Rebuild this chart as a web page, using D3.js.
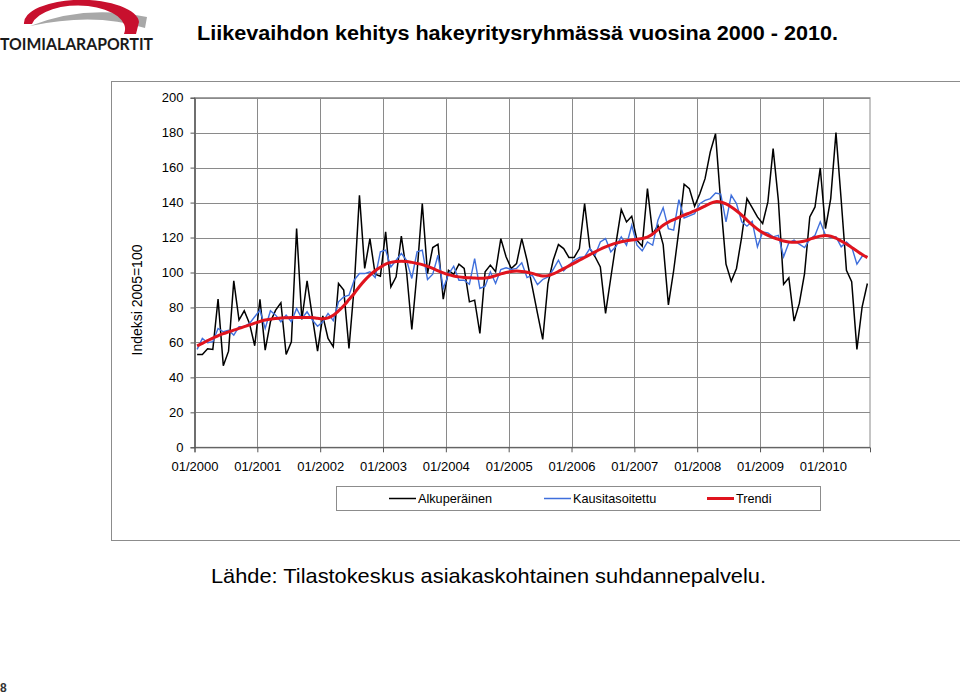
<!DOCTYPE html>
<html><head><meta charset="utf-8">
<script src="https://cdn.jsdelivr.net/npm/d3@7"></script>
<style>
html,body{margin:0;padding:0;background:#fff;}
svg{display:block;font-family:"Liberation Sans",Arial,sans-serif;}
</style></head>
<body>
<svg id="c" width="960" height="694"></svg>
<script>
// ---- DATA ----
const tickLabels = ["01/2000","01/2001","01/2002","01/2003","01/2004","01/2005","01/2006","01/2007","01/2008","01/2009","01/2010"];
const seriesNames = ["Alkuperäinen","Kausitasoitettu","Trendi"];
const yTicks = [0,20,40,60,80,100,120,140,160,180,200];
// original series, monthly 01/2000 - 09/2010
const original = [
 53.1,53.1,56.4,56.0,84.8,46.7,55.0,95.2,72.8,78.1,70.9,58.1,
 84.6,55.6,71.8,78.5,82.7,53.1,60.4,125.1,73.1,95.2,74.7,55.0,
 75.2,62.3,57.5,93.7,89.9,56.6,92.0,144.2,102.3,119.4,99.0,97.9,
 123.2,91.8,97.5,120.8,100.4,67.4,100.0,139.5,99.4,114.3,116.2,84.8,
 101.3,99.0,104.8,102.3,83.2,84.2,65.1,100.4,104.2,100.4,119.4,109.0,
 102.3,105.1,119.4,107.0,91.8,76.6,61.7,93.7,107.0,116.0,113.7,108.6,
 108.6,113.7,139.4,113.7,109.0,103.2,76.6,97.0,117.0,136.0,128.9,132.2,
 118.5,115.0,148.0,122.0,127.0,116.0,81.5,101.0,124.2,150.5,148.0,137.9,
 145.1,153.7,169.0,179.4,140.0,104.8,95.0,102.3,120.4,142.3,137.1,131.8,
 128.0,140.4,170.9,141.3,93.3,97.0,72.2,82.3,99.4,131.8,137.5,159.8,
 125.1,142.3,180.0,141.3,101.3,94.7,56.0,80.4,93.7
];
const seasonal = [
 56.0,62.3,59.8,60.4,68.0,66.1,67.0,64.2,69.0,69.0,70.9,74.7,
 78.5,68.0,78.1,75.6,71.8,75.6,71.8,79.4,73.7,77.5,72.8,69.3,
 71.8,76.6,72.4,83.2,86.1,87.0,95.6,99.4,99.4,100.4,97.1,111.8,
 112.8,103.2,107.0,110.9,107.0,96.6,111.8,112.8,96.0,99.0,109.9,90.9,
 99.0,103.6,95.6,95.6,93.3,108.0,90.9,92.2,100.4,93.7,101.7,102.7,
 101.7,102.3,105.5,97.1,98.5,93.1,96.0,97.5,101.7,107.0,101.0,104.2,
 107.0,108.6,109.0,113.7,109.9,117.5,119.4,111.8,115.0,120.4,115.6,127.0,
 115.6,112.4,117.5,115.6,129.9,137.1,125.1,124.2,141.7,131.2,132.4,133.7,
 139.4,141.3,142.3,145.5,144.8,129.0,144.2,139.4,129.0,126.5,129.3,114.7,
 123.2,122.7,120.4,121.3,109.0,117.0,118.5,116.2,114.3,119.0,121.3,129.0,
 121.3,120.0,120.4,114.7,117.5,114.7,104.8,109.3,109.3
];
const trend = [
 58,59.5,61,62.5,63.8,65,66,67,68,69,70,71,
 72,72.8,73.3,73.7,74,74.1,74.2,74.3,74.3,74.3,74.2,73.8,
 73.5,74,75.5,78,81,84.5,88,92,95.5,98.5,101,103,
 104.8,105.8,106.3,106.5,106.3,105.8,105.2,104.5,103.5,102.3,101,99.8,
 98.8,98,97.5,97.2,97,96.8,96.7,96.8,97.3,98.2,99.2,100,
 100.6,100.8,100.6,100.2,99.5,98.6,98,98.2,99.2,100.6,102.2,103.8,
 105.4,107,108.6,110.2,111.8,113.3,114.6,115.8,116.8,117.6,118.2,118.6,
 119,119.4,120.2,122,124.5,127,128.8,130.2,131.5,132.8,134,135.2,
 136.5,138,139.5,140.5,140.3,139.2,137.5,135.3,132.8,130,127.2,124.8,
 122.8,121.2,120,119,118,117.5,117.3,117.5,118,119,120,120.8,
 121.2,120.8,119.6,118,116.3,114.3,112.3,110.3,108.5
];
const n = original.length;

// ---- DRAW ----
const svg = d3.select("#c");

// logo
const logo = svg.append("g");
logo.append("path")
  .attr("d","M30,26 Q85,4 147,17 L145,28 Q95,12 30,26 Z")
  .attr("fill","#a8a8a8");
logo.append("path")
  .attr("d","M24,24 A57,23 0 0 1 139,22 L136,34 L124,34 A46,23 0 0 0 32,24 Z")
  .attr("fill","#c8102e");
logo.append("text").attr("x",0).attr("y",50)
  .attr("font-family","Lato, 'Open Sans', sans-serif").attr("font-size",17).attr("font-weight","bold")
  .attr("textLength",153).attr("lengthAdjust","spacingAndGlyphs")
  .attr("fill","#1a1a1a").text("TOIMIALARAPORTIT");

// title
svg.append("text").attr("x",197).attr("y",40)
  .attr("font-size",20).attr("font-weight","bold").attr("fill","#000")
  .attr("textLength",641).attr("lengthAdjust","spacingAndGlyphs")
  .text("Liikevaihdon kehitys hakeyritysryhmässä vuosina 2000 - 2010.");

// chart frame
svg.append("rect").attr("x",111.5).attr("y",81.5).attr("width",900).attr("height",459)
  .attr("fill","#fff").attr("stroke","#8c8c8c").attr("stroke-width",1);

const L = 194.5, R = 870, T = 97.7, B = 447.3;
const x = d3.scaleLinear().domain([0, n]).range([L, R]);
const y = d3.scaleLinear().domain([0, 200]).range([B, T]);

// grid
const g = svg.append("g");
g.selectAll("line.h").data(yTicks).join("line")
  .attr("x1",L).attr("x2",R).attr("y1",d=>Math.round(y(d))+0.5).attr("y2",d=>Math.round(y(d))+0.5)
  .attr("stroke","#8a8a8a").attr("stroke-width",1);
g.selectAll("line.v").data(tickLabels).join("line")
  .attr("x1",(d,i)=>Math.round(x(i*12))+0.5).attr("x2",(d,i)=>Math.round(x(i*12))+0.5)
  .attr("y1",T).attr("y2",B)
  .attr("stroke","#8a8a8a").attr("stroke-width",1);
g.append("rect").attr("x",L).attr("y",T).attr("width",R-L).attr("height",B-T)
  .attr("fill","none").attr("stroke","#8a8a8a").attr("stroke-width",1);

// axes
const yAxis = d3.axisLeft(y).tickValues(yTicks).tickSize(4).tickPadding(7);
const ya = svg.append("g").attr("transform",`translate(${L},0)`).call(yAxis);
ya.select(".domain").attr("stroke","#555");
ya.selectAll(".tick line").attr("stroke","#555");
ya.selectAll("text").attr("font-size",13).attr("font-family","'Liberation Sans',Arial,sans-serif").attr("fill","#000");

const xAxis = d3.axisBottom(x).tickValues(d3.range(0, n, 12)).tickSize(5).tickPadding(9)
  .tickFormat((d,i)=>tickLabels[i]);
const xa = svg.append("g").attr("transform",`translate(0,${B})`).call(xAxis);
xa.select(".domain").attr("stroke","#555");
xa.selectAll(".tick line").attr("stroke","#555");
xa.selectAll("text").attr("font-size",13).attr("font-family","'Liberation Sans',Arial,sans-serif").attr("fill","#000");

// y title
svg.append("text").attr("transform","translate(142,300) rotate(-90)")
  .attr("text-anchor","middle").attr("font-size",14).attr("fill","#000")
  .text("Indeksi 2005=100");

// lines
const line = d3.line().x((d,i)=>x(i+0.5)).y(d=>y(d));
svg.append("path").datum(original).attr("d",line).attr("fill","none")
  .attr("stroke","#000").attr("stroke-width",1.5).attr("stroke-linejoin","miter");
svg.append("path").datum(seasonal).attr("d",line).attr("fill","none")
  .attr("stroke","#3f6fdc").attr("stroke-width",1.4);
svg.append("path").datum(trend).attr("d",line.curve(d3.curveCatmullRom)).attr("fill","none")
  .attr("stroke","#e0141e").attr("stroke-width",3).attr("stroke-linejoin","round");

// legend
svg.append("rect").attr("x",336.5).attr("y",486.5).attr("width",484).attr("height",24)
  .attr("fill","#fff").attr("stroke","#8c8c8c");
const legItems = [
  {name:seriesNames[0], color:"#000", w:1.5, x0:389},
  {name:seriesNames[1], color:"#3f6fdc", w:1.5, x0:544},
  {name:seriesNames[2], color:"#e0141e", w:3, x0:707}
];
const lg = svg.selectAll("g.leg").data(legItems).join("g");
lg.append("line").attr("x1",d=>d.x0).attr("x2",d=>d.x0+27).attr("y1",498.5).attr("y2",498.5)
  .attr("stroke",d=>d.color).attr("stroke-width",d=>d.w);
lg.append("text").attr("x",d=>d.x0+29).attr("y",503).attr("font-size",12.7).attr("fill","#000")
  .text(d=>d.name);

// source
svg.append("text").attr("x",211).attr("y",583).attr("font-size",21).attr("fill","#000")
  .attr("textLength",555).attr("lengthAdjust","spacingAndGlyphs")
  .text("Lähde: Tilastokeskus asiakaskohtainen suhdannepalvelu.");

// page number
svg.append("text").attr("x",0).attr("y",692).attr("font-size",12).attr("font-weight","bold")
  .attr("fill","#333").text("8");
</script>
</body></html>
